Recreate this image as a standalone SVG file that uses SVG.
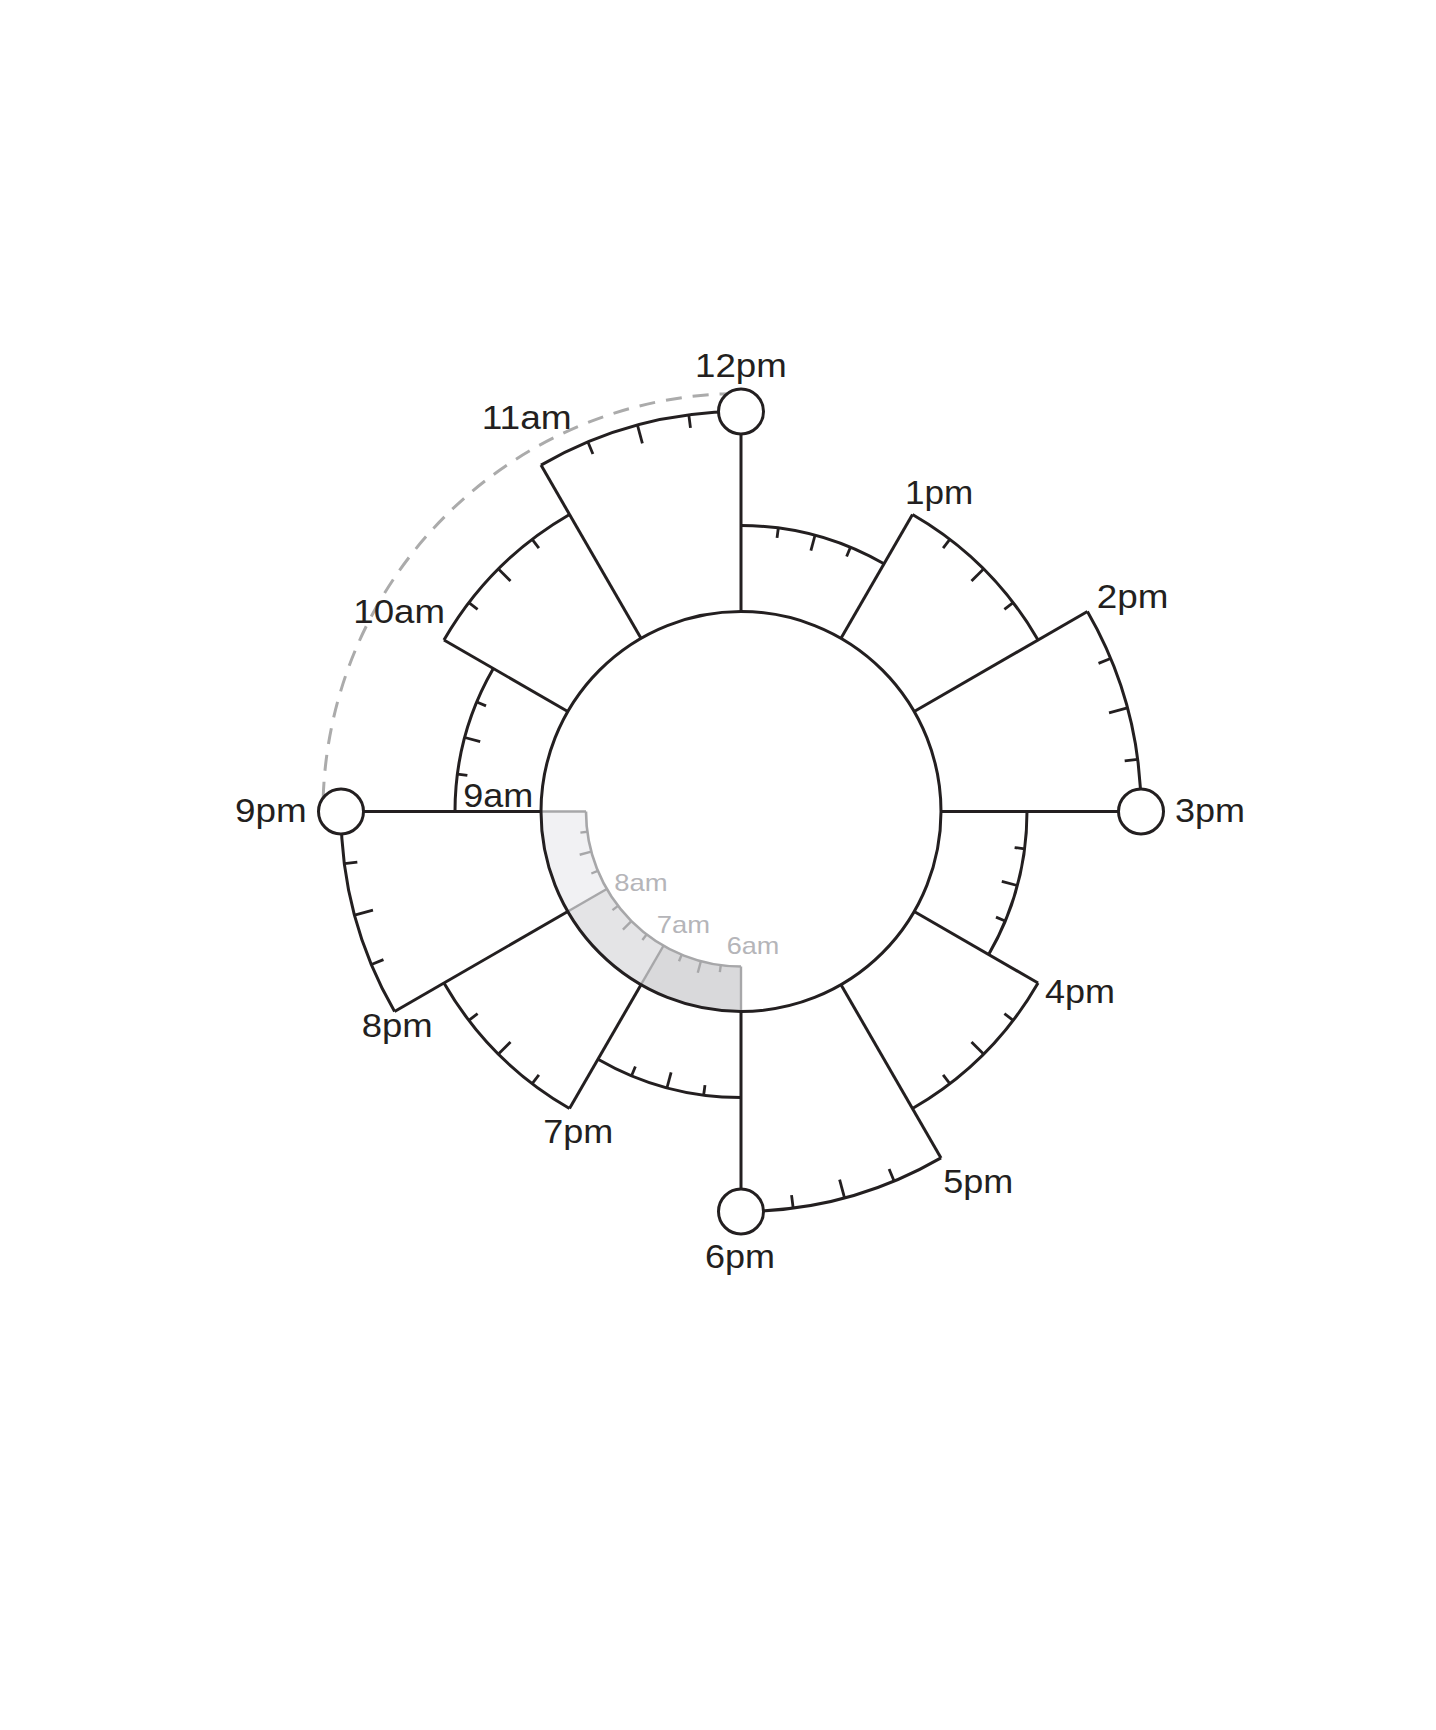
<svg xmlns="http://www.w3.org/2000/svg" width="1436" height="1730" viewBox="0 0 1436 1730">
<style>
.ln{fill:none;stroke:#231f20;stroke-width:3;stroke-linecap:butt;stroke-linejoin:miter}
.tk{stroke:#231f20;stroke-width:2.8}
.gl{fill:none;stroke:#a7a7a9;stroke-width:2.6}
.gt{stroke:#a7a7a9;stroke-width:2.4}
.node{fill:#fff;stroke:#231f20;stroke-width:3}
.lbl{font-family:"Liberation Sans",Arial,sans-serif;font-size:34px;fill:#231f20}
.glbl{font-family:"Liberation Sans",Arial,sans-serif;font-size:24px;fill:#b5b5b9}
</style>
<rect width="1436" height="1730" fill="#fff"/>
<g transform="translate(741,811.5)">
  <!-- grey band (6am-9am) -->
  <g id="band">
    <path transform="rotate(90)" d="M155 0 L200 0 A200 200 0 0 1 173.205 100 L134.234 77.5 A155 155 0 0 0 155 0 Z" fill="#d9d9db"/>
    <path transform="rotate(120)" d="M155 0 L200 0 A200 200 0 0 1 173.205 100 L134.234 77.5 A155 155 0 0 0 155 0 Z" fill="#e4e4e6"/>
    <path transform="rotate(150)" d="M155 0 L200 0 A200 200 0 0 1 173.205 100 L134.234 77.5 A155 155 0 0 0 155 0 Z" fill="#f1f1f3"/>
    <g transform="rotate(90)">
      <path class="gl" d="M155 0 A155 155 0 0 1 0 155"/>
      <line class="gt" x1="155" y1="0" x2="200" y2="0"/>
      <line class="gt" transform="rotate(30)" x1="155" y1="0" x2="200" y2="0"/>
      <line class="gt" transform="rotate(60)" x1="155" y1="0" x2="200" y2="0"/>
      <line class="gt" transform="rotate(90)" x1="155" y1="0" x2="200" y2="0"/>
      <line class="gt" transform="rotate(7.5)" x1="155" y1="0" x2="162" y2="0"/>
      <line class="gt" transform="rotate(15)" x1="155" y1="0" x2="167" y2="0"/>
      <line class="gt" transform="rotate(22.5)" x1="155" y1="0" x2="162" y2="0"/>
      <line class="gt" transform="rotate(37.5)" x1="155" y1="0" x2="162" y2="0"/>
      <line class="gt" transform="rotate(45)" x1="155" y1="0" x2="167" y2="0"/>
      <line class="gt" transform="rotate(52.5)" x1="155" y1="0" x2="162" y2="0"/>
      <line class="gt" transform="rotate(67.5)" x1="155" y1="0" x2="162" y2="0"/>
      <line class="gt" transform="rotate(75)" x1="155" y1="0" x2="167" y2="0"/>
      <line class="gt" transform="rotate(82.5)" x1="155" y1="0" x2="162" y2="0"/>
    </g>
  </g>
  <!-- dashed arc 9pm to 12pm -->
  <path d="M-417.8 -13.9 A418 418 0 0 1 -13.9 -417.8" fill="none" stroke="#ababab" stroke-width="3" stroke-dasharray="16 11"/>
  <!-- inner circle -->
  <circle id="core" cx="0" cy="0" r="200" class="ln"/>
  <!-- connectors: radial lines -->
  <g id="connectors">
    <line class="ln" transform="rotate(0)" x1="200" y1="0" x2="400" y2="0"/>
    <line class="ln" transform="rotate(30)" x1="200" y1="0" x2="343" y2="0"/>
    <line class="ln" transform="rotate(60)" x1="200" y1="0" x2="400" y2="0"/>
    <line class="ln" transform="rotate(90)" x1="200" y1="0" x2="400" y2="0"/>
    <line class="ln" transform="rotate(120)" x1="200" y1="0" x2="343" y2="0"/>
    <line class="ln" transform="rotate(150)" x1="200" y1="0" x2="400" y2="0"/>
    <line class="ln" transform="rotate(180)" x1="200" y1="0" x2="400" y2="0"/>
    <line class="ln" transform="rotate(210)" x1="200" y1="0" x2="343" y2="0"/>
    <line class="ln" transform="rotate(240)" x1="200" y1="0" x2="400" y2="0"/>
    <line class="ln" transform="rotate(270)" x1="200" y1="0" x2="400" y2="0"/>
    <line class="ln" transform="rotate(300)" x1="200" y1="0" x2="343" y2="0"/>
    <line class="ln" transform="rotate(330)" x1="200" y1="0" x2="400" y2="0"/>
  </g>
  <defs>
    <g id="s286">
      <path class="ln" d="M286 0 A286 286 0 0 1 247.683 143"/>
      <line class="tk" transform="rotate(7.5)" x1="276" y1="0" x2="286" y2="0"/>
      <line class="tk" transform="rotate(15)" x1="270" y1="0" x2="286" y2="0"/>
      <line class="tk" transform="rotate(22.5)" x1="276" y1="0" x2="286" y2="0"/>
    </g>
    <g id="s343">
      <path class="ln" d="M343 0 A343 343 0 0 1 297.047 171.5"/>
      <line class="tk" transform="rotate(7.5)" x1="332" y1="0" x2="343" y2="0"/>
      <line class="tk" transform="rotate(15)" x1="326" y1="0" x2="343" y2="0"/>
      <line class="tk" transform="rotate(22.5)" x1="332" y1="0" x2="343" y2="0"/>
    </g>
    <g id="s400">
      <path class="ln" d="M400 0 A400 400 0 0 1 346.410 200"/>
      <line class="tk" transform="rotate(7.5)" x1="387" y1="0" x2="400" y2="0"/>
      <line class="tk" transform="rotate(15)" x1="381" y1="0" x2="400" y2="0"/>
      <line class="tk" transform="rotate(22.5)" x1="387" y1="0" x2="400" y2="0"/>
    </g>
  </defs>
  <g id="sector-9am"><use href="#s286" transform="rotate(180)"/></g>
  <g id="sector-10am"><use href="#s343" transform="rotate(210)"/></g>
  <g id="sector-11am"><use href="#s400" transform="rotate(240)"/></g>
  <g id="sector-12pm"><use href="#s286" transform="rotate(270)"/></g>
  <g id="sector-1pm"><use href="#s343" transform="rotate(300)"/></g>
  <g id="sector-2pm"><use href="#s400" transform="rotate(330)"/></g>
  <g id="sector-3pm"><use href="#s286" transform="rotate(0)"/></g>
  <g id="sector-4pm"><use href="#s343" transform="rotate(30)"/></g>
  <g id="sector-5pm"><use href="#s400" transform="rotate(60)"/></g>
  <g id="sector-6pm"><use href="#s286" transform="rotate(90)"/></g>
  <g id="sector-7pm"><use href="#s343" transform="rotate(120)"/></g>
  <g id="sector-8pm"><use href="#s400" transform="rotate(150)"/></g>
  <g id="node-12pm"><circle class="node" cx="0" cy="-400" r="22.5"/></g>
  <g id="node-3pm"><circle class="node" cx="400" cy="0" r="22.5"/></g>
  <g id="node-6pm"><circle class="node" cx="0" cy="400" r="22.5"/></g>
  <g id="node-9pm"><circle class="node" cx="-400" cy="0" r="22.5"/></g>
</g>
<g id="labels">
  <text class="lbl" x="695" y="376.7" textLength="91.7" lengthAdjust="spacingAndGlyphs">12pm</text>
  <text class="lbl" x="481.7" y="429.3" textLength="90" lengthAdjust="spacingAndGlyphs">11am</text>
  <text class="lbl" x="905" y="504.3" textLength="68.3" lengthAdjust="spacingAndGlyphs">1pm</text>
  <text class="lbl" x="1096.7" y="608.3" textLength="71.6" lengthAdjust="spacingAndGlyphs">2pm</text>
  <text class="lbl" x="353.3" y="623.3" textLength="91.7" lengthAdjust="spacingAndGlyphs">10am</text>
  <text class="lbl" x="463.3" y="807.3" textLength="70" lengthAdjust="spacingAndGlyphs">9am</text>
  <text class="lbl" x="235" y="821.7" textLength="71.7" lengthAdjust="spacingAndGlyphs">9pm</text>
  <text class="lbl" x="1175" y="821.7" textLength="70" lengthAdjust="spacingAndGlyphs">3pm</text>
  <text class="lbl" x="1045" y="1003.3" textLength="70" lengthAdjust="spacingAndGlyphs">4pm</text>
  <text class="lbl" x="943.3" y="1193.3" textLength="70" lengthAdjust="spacingAndGlyphs">5pm</text>
  <text class="lbl" x="705" y="1268.3" textLength="70" lengthAdjust="spacingAndGlyphs">6pm</text>
  <text class="lbl" x="543.3" y="1143.3" textLength="70" lengthAdjust="spacingAndGlyphs">7pm</text>
  <text class="lbl" x="361.7" y="1037.3" textLength="71" lengthAdjust="spacingAndGlyphs">8pm</text>
  <text class="glbl" x="614.3" y="891" textLength="53.4" lengthAdjust="spacingAndGlyphs">8am</text>
  <text class="glbl" x="656.7" y="932.7" textLength="53.3" lengthAdjust="spacingAndGlyphs">7am</text>
  <text class="glbl" x="726.7" y="954" textLength="52.6" lengthAdjust="spacingAndGlyphs">6am</text>
</g>
</svg>
